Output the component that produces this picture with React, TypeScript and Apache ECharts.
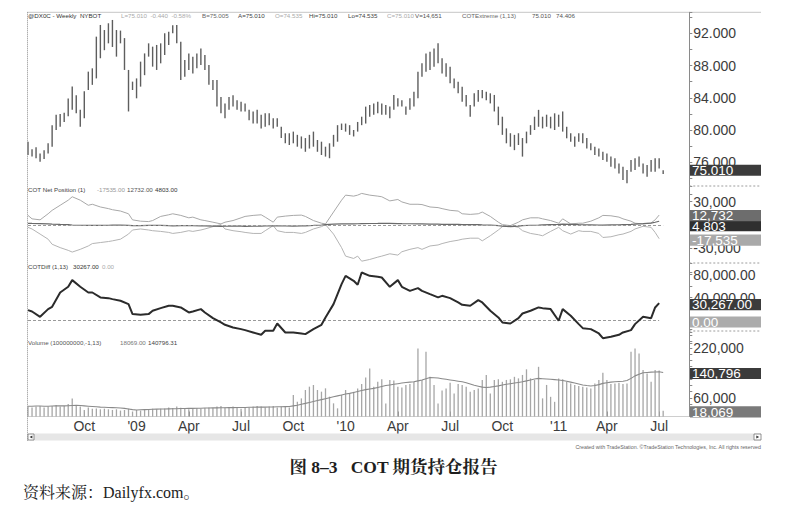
import React, { useEffect, useRef } from "react";
import * as echarts from "echarts";

// ---------- categories ----------
const START_DATE = "2008-06-27";
const SLOT_COUNT = 165;
const MONTHS = ["Jan", "Feb", "Mar", "Apr", "May", "Jun", "Jul", "Aug", "Sep", "Oct", "Nov", "Dec"];

// ---------- price (weekly high / low) ----------
const priceHigh = [
  78.55, 77.6, 77.85, 77.1, 77.5, 78.35, 80.6, 81.9, 82.0, 82.15,
  83.9, 85.4, 84.3, 82.5, 84.8, 87.24, 87.65, 91.58, 93.03, 92.4,
  93.24, 93.65, 92.4, 92.33, 91.4, 87.45, 86.0, 86.4, 88.48, 89.5,
  90.75, 90.34, 90.55, 90.75, 92.0, 92.2, 93.0, 93.03, 90.96, 88.69,
  89.5, 89.1, 89.5, 90.1, 89.3, 88.07, 86.2, 86.2, 84.1, 83.3,
  84.1, 84.3, 83.7, 83.5, 83.3, 82.5, 82.3, 82.5, 81.9, 82.07,
  82.07, 81.45, 81.45, 80.4, 79.6, 79.6, 79.8, 79.4, 79.2, 79.0,
  79.4, 79.8, 78.76, 78.55, 77.93, 78.35, 79.4, 80.6, 80.8, 80.8,
  80.6, 80.0, 81.0, 81.65, 82.9, 83.1, 83.3, 83.5, 83.3, 83.1,
  82.9, 84.35, 83.93, 83.7, 82.9, 83.93, 84.76, 87.24, 88.27, 89.5,
  89.7, 90.1, 90.75, 88.9, 88.27, 87.86, 86.4, 86.0, 85.38, 84.35,
  83.1, 84.55, 84.96, 84.96, 84.76, 84.55, 84.35, 82.9, 81.65, 80.2,
  79.6, 79.4, 79.6, 79.0, 79.8, 80.6, 81.65, 82.5, 81.65, 81.9,
  81.65, 82.07, 81.9, 82.3, 80.4, 79.6, 79.2, 79.6, 79.6, 79.0,
  78.35, 77.93, 77.7, 77.3, 77.1, 76.7, 76.5, 75.86, 75.45, 75.04,
  76.28, 76.5, 76.7, 75.86, 75.66, 76.28, 76.5, 76.5, 75.01,
];
const priceLow = [
  76.9, 76.7, 76.5, 76.07, 76.4, 77.1, 77.93, 80.0, 80.4, 81.0,
  81.7, 82.5, 82.07, 80.4, 81.45, 84.96, 85.6, 86.4, 88.9, 89.9,
  90.75, 90.3, 89.1, 90.75, 87.45, 82.3, 84.96, 83.93, 85.38, 86.8,
  89.1, 87.86, 87.45, 88.27, 89.3, 90.55, 92.0, 90.75, 86.2, 86.62,
  87.45, 87.0, 87.65, 88.07, 87.45, 85.6, 84.96, 82.9, 82.07, 81.45,
  82.5, 82.9, 82.5, 82.3, 82.3, 81.2, 80.8, 80.8, 80.2, 80.4,
  80.6, 80.2, 80.4, 79.0, 78.35, 78.14, 78.35, 77.93, 77.7, 77.3,
  77.7, 77.93, 77.3, 76.9, 76.7, 76.5, 77.93, 78.55, 80.0, 79.8,
  79.4, 79.2, 79.8, 80.6, 80.8, 81.65, 81.9, 82.07, 81.9, 81.9,
  81.45, 82.5, 82.9, 82.9, 81.9, 82.5, 82.9, 83.93, 86.62, 87.24,
  87.45, 87.86, 88.27, 87.0, 86.62, 85.8, 85.17, 84.55, 83.5, 82.9,
  81.65, 82.9, 83.5, 83.93, 83.7, 83.3, 82.3, 80.6, 79.4, 78.35,
  77.93, 77.5, 78.14, 76.7, 78.35, 79.4, 80.0, 80.4, 80.2, 80.4,
  80.2, 80.0, 80.4, 79.8, 78.97, 78.55, 77.93, 78.55, 78.35, 77.7,
  77.5, 76.9, 76.7, 76.28, 76.07, 75.45, 75.24, 74.6, 73.8, 73.38,
  74.83, 75.04, 75.45, 74.6, 74.2, 74.83, 74.83, 75.24, 74.535,
];
const lastClose = 75.01;

// ---------- COT net positions (sampled weeks) ----------
const cotWeeks = [
  0, 1, 3, 5, 6, 8, 10, 11, 13, 15, 16, 18, 20, 21, 23, 25, 26, 28, 30, 31,
  33, 35, 36, 38, 40, 41, 43, 44, 46, 48, 49, 51, 53, 54, 56, 58, 59, 61, 62, 64,
  66, 68, 69, 71, 73, 74, 76, 78, 79, 81,
  82, 83, 85, 87, 88, 90, 92, 93, 95, 97, 98, 100, 102, 103, 105, 107, 108, 110, 112, 113,
  115, 117, 118, 120, 122, 123, 125, 127, 128, 130, 132, 133, 135, 137, 138, 140, 142, 143, 145, 147,
  148, 150, 151, 153, 155, 156, 157,
];
const netUpper = [
  12300, 7900, 6600, 14400, 18800, 25300, 31800, 36200, 31800, 25300,
  26600, 23100, 21000, 19600, 17900, 14400, 6600, 4900, 4400, 5700,
  11000, 13100, 14400, 12300, 9200, 10100, 6600, 5700, 3600, 1400,
  3600, 5700, 9200, 11000, 12300, 13100, 10100, 3600, 10100, 11400,
  12300, 12700, 11000, 5700, 2300, 1400, 16600, 31800, 38300, 37000,
  38300, 40500, 38300, 37000, 36200, 30900, 32700, 29600, 26600, 26600,
  26200, 23100, 22300, 21000, 18800, 17900, 14400, 13600, 14400, 16600,
  11000, 3600, 500, -800, 3600, 6600, 9200, 9200, 7900, 5700,
  2300, 7900, 1400, 2300, 2300, 4900, 9200, 12300, 11800, 10100,
  7900, 4900, 2300, 1400, 2700, 6600, 12732,
];
const netLower = [
  -3000, -5100, -11600, -18200, -24700, -29000, -32500, -34700, -31200, -26900,
  -23800, -22500, -21200, -20300, -18200, -11600, -6400, -5100, -6400, -7300,
  -8200, -9500, -10800, -9500, -7300, -8200, -6400, -5100, -2100, 500,
  -5100, -7300, -8600, -9500, -10800, -10800, -7300, -800, -7300, -9500,
  -9500, -10800, -9500, -5100, -2100, 500, -11600, -29000, -39900, -42900,
  -39900, -46400, -44200, -41200, -39900, -36900, -38600, -34300, -31200, -29000,
  -31200, -26900, -25600, -23800, -21200, -19500, -18200, -16900, -16900, -20300,
  -13800, -6400, -2100, -800, -3000, -7300, -10800, -12500, -13800, -8200,
  -3000, -7300, -11600, -7300, -8200, -8200, -10800, -16000, -15100, -12500,
  -11600, -8200, -5100, -1700, -3000, -9500, -17535,
];
const netSmall = [
  2200, 2000, 1800, 1500, 1200, 800, 500, 0, -300, -500,
  -600, -400, -300, -200, 0, -400, -800, -700, -500, -400,
  -600, -900, -1000, -800, -700, -900, -1100, -1200, -1500, -1800,
  -1600, -1400, -1500, -1700, -1600, -1500, -1300, -1000, -1100, -1300,
  -1400, -1200, -1000, -600, 0, 600, 1000, 1400, 1600, 1500,
  1600, 1800, 1900, 2000, 2100, 2000, 1800, 1700, 1600, 1500,
  1400, 1200, 1000, 900, 800, 700, 600, 500, 400, 200,
  0, -800, -1500, -2000, -1400, -800, -300, 0, 200, 500,
  700, 1200, 800, 400, 300, 200, 0, -200, 100, 300,
  500, 800, 1200, 1800, 2500, 3500, 4803,
];
const cotDiff = [
  18000, 15700, 6400, 19800, 23800, 48700, 58600, 70200, 58600, 48700,
  48700, 40100, 38900, 37200, 34300, 28500, 11100, 9900, 11100, 16900,
  21500, 25600, 25600, 22700, 14000, 15700, 19800, 14000, 4100, -3400,
  -7500, -12100, -15000, -16700, -20800, -24900, -17900, -17900, -5200, -20800,
  -20800, -22600, -23700, -15000, -7500, 5300, 28500, 63200, 77700, 69000,
  62100, 83500, 77700, 76000, 74800, 58600, 70200, 58600, 51600, 56300,
  51600, 45800, 40100, 42900, 38900, 31400, 27300, 25600, 35400, 31400,
  16900, 5300, -3400, -5200, 4100, 12200, 16900, 22700, 21500, 19800,
  -500, 19800, 8200, -6300, -13300, -15000, -22600, -30700, -28300, -24900,
  -20800, -16700, -6300, 6400, 4100, 22700, 30267,
];

// ---------- volume ----------
const volume = [
  32000, 29000, 32000, 34000, 29000, 32000, 34000, 37000, 32000, 34000,
  40000, 58000, 37000, 32000, 21000, 29000, 25000, 26000, 23000, 25000,
  23000, 21000, 23000, 19000, 21000, 25000, 16000, 21000, 19000, 23000,
  21000, 25000, 23000, 25000, 26000, 29000, 27000, 32000, 28000, 26000,
  23000, 25000, 27000, 25000, 27000, 29000, 27000, 32000, 34000, 29000,
  27000, 32000, 29000, 25000, 27000, 29000, 32000, 34000, 32000, 29000,
  32000, 34000, 29000, 32000, 33000, 29000, 68800, 47500, 58000, 84800,
  95500, 100800, 84800, 79500, 90100, 63500, 42100, 26100, 68800, 84800,
  74000, 79000, 90000, 104000, 125000, 154000, 95000, 111000, 119000, 42000,
  117000, 115000, 95000, 93000, 101000, 104000, 111000, 218000, 117000, 207000,
  127000, 101000, 42000, 83000, 90000, 108000, 74000, 104000, 101000, 95000,
  79000, 85000, 90000, 117000, 133000, 74000, 117000, 119000, 111000, 117000,
  119000, 127000, 122000, 133000, 151000, 122000, 117000, 159000, 58000, 101000,
  63000, 47000, 122000, 119000, 111000, 106000, 101000, 98000, 95000, 93000,
  90000, 106000, 117000, 140000, 117000, 104000, 106000, 108000, 104000, 106000,
  207000, 218000, 202000, 149000, 138000, 111000, 149000, 147000, 18069,
];
const volumeAvg = [
  33000, 33000, 33500, 33500, 33000, 33000, 33500, 34000, 34000, 34000, 34500,
  35000, 35500, 35000, 34000,
  33000, 32000, 31000, 30000, 29500, 29000, 28500, 28000, 27000, 26000, 24000,
  22000, 21000, 21500, 22000, 22500,
  23000, 23500, 24000, 24000, 24500, 25000, 25000, 25500, 25500, 26000, 26000, 26500, 26500, 27000, 27000,
  27500, 27500, 28000, 28000, 28500, 28500, 29000, 29000, 29000, 29500, 29500, 30000, 30000, 30000, 30500, 30500, 31000, 31000, 31500, 32000,
  34000, 36000, 39000, 42000, 45000, 48000, 51000, 54000, 57000, 60000, 63000, 66000, 69000, 72000,
  74000, 77000, 80000, 83000, 86000, 88000, 90000, 93000, 96000, 99000, 101000,
  103000, 105000, 107000, 109000, 110000, 111000, 114000, 117000, 121000, 125000,
  124000, 123000, 121000, 119000, 117000, 115000, 113000, 111000, 108000, 104000,
  100000, 97000, 94000, 93000, 94000, 96000, 98000, 101000,
  103000, 105000, 107000, 109000, 111000, 114000, 117000, 120000, 122000,
  121000, 120000, 119000, 118000, 117000, 115000, 113000, 110000, 107000, 104000, 101000, 99000, 97600,
  99000, 102000, 106000, 108000, 110000, 111000, 112000, 113000,
  115000, 122000, 130000, 135000, 140000, 141000, 142000, 142500, 143000, 140796,
];

const SANS = '"Liberation Sans", Arial, sans-serif';
const SERIF = '"Liberation Serif", "Noto Serif CJK SC", "Noto Sans CJK SC", serif';
const LABEL = "#3c3c3c";

function weekCategories(): string[] {
  const base = Date.parse(START_DATE + "T00:00:00Z");
  const out: string[] = [];
  for (let i = 0; i < SLOT_COUNT; i++) {
    out.push(new Date(base + i * 7 * 86400000).toISOString().slice(0, 10));
  }
  return out;
}
// a label sits on the first week of each quarter (not on the chart's very first weeks)
const isQuarterStart = (idx: number, v: string) => {
  const m = +v.slice(5, 7) - 1;
  const d = +v.slice(8, 10);
  return idx > 4 && m % 3 === 0 && d <= 7;
};
const quarterLabel = (v: string) => {
  const m = +v.slice(5, 7) - 1;
  return m === 0 ? "'" + v.slice(2, 4) : MONTHS[m];
};
const fmt = (v: number, dec = 0) =>
  v.toLocaleString("en-US", { minimumFractionDigits: dec, maximumFractionDigits: dec });

export default function App() {
  const ref = useRef<HTMLDivElement>(null);

  useEffect(() => {
    const el = ref.current!;
    const chart = echarts.init(el, null, { renderer: "svg" });
    const cats = weekCategories();
    const gridBase = { left: 26, right: 812 - 689.3, outerBoundsMode: "none", containLabel: false };
    const grids = [
      { ...gridBase, top: 12.3, height: 182.2 },
      { ...gridBase, top: 186, height: 85.8 },
      { ...gridBase, top: 263, height: 80.5 },
      { ...gridBase, top: 329, height: 87.5 },
    ];
    const xAxes = grids.map((_, k) => ({
      type: "category",
      gridIndex: k,
      data: cats,
      boundaryGap: true,
      axisLine: { show: false },
      axisTick:
        k === 3
          ? { show: true, inside: true, length: 5, alignWithLabel: true, interval: (i: number, v: string) => isQuarterStart(i, v), lineStyle: { color: "#8a8a8a" } }
          : { show: false },
      axisLabel:
        k === 3
          ? { show: true, interval: (i: number, v: string) => isQuarterStart(i, v), formatter: quarterLabel, fontSize: 14, fontFamily: SANS, color: LABEL, margin: 2 }
          : { show: false },
      splitLine: { show: false },
    }));
    const yBase = {
      type: "value",
      position: "right",
      axisLine: { show: true, lineStyle: { color: "#8a8a8a", width: 1 } },
      axisTick: { show: true, length: 3, lineStyle: { color: "#8a8a8a" } },
      splitLine: { show: false },
    };
    const yAxes = [
      {
        ...yBase, gridIndex: 0, min: 72, max: 94.6, interval: 2,
        axisLabel: { fontSize: 14, fontFamily: SANS, color: LABEL, margin: 4, formatter: (v: number) => (v % 4 === 0 && v >= 76 && v <= 92 ? v.toFixed(3) : "") },
      },
      {
        ...yBase, gridIndex: 1, min: -60000, max: 50000, interval: 30000,
        axisLabel: { fontSize: 14, fontFamily: SANS, color: LABEL, margin: 4, formatter: (v: number) => (Math.abs(v) === 30000 ? fmt(v) : "") },
      },
      {
        ...yBase, gridIndex: 2, min: -40000, max: 100000, interval: 20000,
        axisLabel: { fontSize: 14, fontFamily: SANS, color: LABEL, margin: 4, formatter: (v: number) => (v === 40000 || v === 80000 ? fmt(v, 2) : "") },
      },
      {
        ...yBase, gridIndex: 3, min: 0, max: 280000, interval: 20000,
        axisLabel: { fontSize: 14, fontFamily: SANS, color: LABEL, margin: 4, formatter: (v: number) => (v === 60000 || v === 220000 ? fmt(v) : "") },
      },
    ];
    const lastIdx = priceHigh.length - 1;
    const zeroLine = (endIdx: number) => ({
      silent: true,
      symbol: ["none", "none"],
      label: { show: false },
      lineStyle: { type: [3, 2], color: "#9a9a9a", width: 1 },
      data: [[{ coord: [0, 0] }, { coord: [endIdx, 0] }]],
    });
    const lastCot = cotWeeks[cotWeeks.length - 1];

    chart.setOption({
      animation: false,
      backgroundColor: "#ffffff",
      grid: grids,
      xAxis: xAxes,
      yAxis: yAxes,
      series: [
        {
          type: "custom",
          xAxisIndex: 0,
          yAxisIndex: 0,
          data: priceHigh.map((h, i) => [i, h, priceLow[i]]),
          encode: { x: 0, y: [1, 2] },
          renderItem: (_p: any, api: any) => {
            const i = api.value(0);
            const a = api.coord([i, api.value(1)]);
            const b = api.coord([i, api.value(2)]);
            return { type: "line", shape: { x1: a[0], y1: a[1], x2: b[0], y2: b[1] }, style: { stroke: "#5e5e5e", lineWidth: 1.4 } };
          },
        },
        {
          type: "line", xAxisIndex: 1, yAxisIndex: 1, showSymbol: false, symbol: "none",
          data: cotWeeks.map((w, k) => [w, netUpper[k]]),
          lineStyle: { color: "#a8a8a8", width: 1 },
        },
        {
          type: "line", xAxisIndex: 1, yAxisIndex: 1, showSymbol: false, symbol: "none",
          data: cotWeeks.map((w, k) => [w, netLower[k]]),
          lineStyle: { color: "#b4b4b4", width: 1 },
        },
        {
          type: "line", xAxisIndex: 1, yAxisIndex: 1, showSymbol: false, symbol: "none",
          data: cotWeeks.map((w, k) => [w, netSmall[k]]),
          lineStyle: { color: "#6a6a6a", width: 1.2 },
          markLine: zeroLine(lastIdx),
        },
        {
          type: "line", xAxisIndex: 2, yAxisIndex: 2, showSymbol: false, symbol: "none",
          data: cotWeeks.map((w, k) => [w, cotDiff[k]]),
          lineStyle: { color: "#2b2b2b", width: 2 },
          markLine: zeroLine(lastCot),
          z: 5,
        },
        {
          type: "bar", xAxisIndex: 3, yAxisIndex: 3, barWidth: 1.3,
          data: volume,
          itemStyle: { color: "#a6a6a6" },
        },
        {
          type: "line", xAxisIndex: 3, yAxisIndex: 3, showSymbol: false, symbol: "none",
          data: volumeAvg,
          lineStyle: { color: "#8a8a8a", width: 1.1 },
        },
      ],
    });

    const py = (axis: number, v: number) => chart.convertToPixel({ yAxisIndex: axis } as any, v) as unknown as number;
    const G: any[] = [];
    const text = (x: number, y: number, s: string, size: number, fill: string, extra: any = {}) =>
      G.push({ type: "text", x, y, silent: true, z: 50, style: { text: s, fontSize: size, fontFamily: SANS, fill, verticalAlign: "middle", align: "left", ...extra } });
    const line = (x1: number, y1: number, x2: number, y2: number, stroke: string, dash?: number[]) =>
      G.push({ type: "line", silent: true, z: 40, shape: { x1, y1, x2, y2 }, style: { stroke, lineWidth: 1, lineDash: dash } });

    // frame & separators
    line(27.5, 12.3, 761, 12.3, "#8c8c8c", [1, 1]);
    line(27.5, 12.3, 27.5, 441, "#8c8c8c", [1, 1]);
    [186, 263, 331].forEach((y) => line(689.3, y, 761, y, "#9c9c9c", [2, 2]));
    line(27.5, 416.5, 761, 416.5, "#9c9c9c", [1, 1]);

    // scrollbar
    G.push({ type: "rect", silent: true, z: 40, shape: { x: 30, y: 433.5, width: 731, height: 7 }, style: { fill: "#e6e6e6" } });
    G.push({ type: "rect", silent: true, z: 41, shape: { x: 28, y: 434, width: 6, height: 6 }, style: { fill: "#fff", stroke: "#777", lineWidth: 0.8 } });
    G.push({ type: "polygon", silent: true, z: 42, shape: { points: [[29.6, 437], [32.4, 435.4], [32.4, 438.6]] }, style: { fill: "#333" } });
    G.push({ type: "rect", silent: true, z: 41, shape: { x: 754, y: 434, width: 7, height: 6 }, style: { fill: "#fff", stroke: "#777", lineWidth: 0.8 } });
    G.push({ type: "polygon", silent: true, z: 42, shape: { points: [[756.3, 435.4], [756.3, 438.6], [759.2, 437]] }, style: { fill: "#333" } });
    text(761, 447, "Created with TradeStation. \u00A9TradeStation Technologies, Inc. All rights reserved", 5.3, "#666", { align: "right" });

    // panel headers
    const H = 6.2;
    text(28, 15.8, "@DX0C - Weekly  NYBOT", H, "#333");
    text(121, 15.8, "L=75.010  -0.440  -0.58%", H, "#aaa");
    text(202, 15.8, "B=75.005", H, "#666");
    text(238, 15.8, "A=75.010", H, "#444");
    text(275, 15.8, "O=74.535", H, "#aaa");
    text(309, 15.8, "Hi=75.010", H, "#444");
    text(348, 15.8, "Lo=74.535", H, "#444");
    text(387, 15.8, "C=75.010", H, "#aaa");
    text(415, 15.8, "V=14,651", H, "#555");
    text(462, 15.8, "COTExtreme (1,13)", H, "#666");
    text(532, 15.8, "75.010   74.406", H, "#555");

    text(28, 189.5, "COT Net Position (1)", H, "#444");
    text(97, 189.5, "-17535.00", H, "#999");
    text(127, 189.5, "12732.00", H, "#555");
    text(155, 189.5, "4803.00", H, "#333");

    text(28, 266.5, "COTDiff (1,13)", H, "#444");
    text(73, 266.5, "30267.00", H, "#333");
    text(102, 266.5, "0.00", H, "#aaa");

    text(28, 342.5, "Volume (100000000,-1,13)", H, "#555");
    text(120, 342.5, "18069.00", H, "#777");
    text(148, 342.5, "140796.31", H, "#444");

    // last value boxes
    const boxes = [
      { axis: 0, v: lastClose, t: lastClose.toFixed(3), fill: "#3b3b3b", dy: 0 },
      { axis: 1, v: netSmall[netSmall.length - 1], t: fmt(netSmall[netSmall.length - 1]), fill: "#2f2f2f", dy: 4.5 },
      { axis: 1, v: netUpper[netUpper.length - 1], t: fmt(netUpper[netUpper.length - 1]), fill: "#6d6d6d", dy: 0.5 },
      { axis: 1, v: netLower[netLower.length - 1], t: fmt(netLower[netLower.length - 1]), fill: "#a9a9a9", dy: 1.5 },
      { axis: 2, v: cotDiff[cotDiff.length - 1], t: fmt(cotDiff[cotDiff.length - 1], 2), fill: "#3b3b3b", dy: 1.5 },
      { axis: 2, v: 0, t: "0.00", fill: "#acacac", dy: 1.5 },
      { axis: 3, v: volumeAvg[volumeAvg.length - 1], t: fmt(volumeAvg[volumeAvg.length - 1]), fill: "#3b3b3b", dy: 1 },
      { axis: 3, v: volume[volume.length - 1], t: fmt(volume[volume.length - 1]), fill: "#7a7a7a", dy: 1 },
    ];
    boxes.forEach((b, k) => {
      const y = py(b.axis, b.v) + b.dy;
      G.push({ type: "rect", silent: true, z: 60 + k * 2, shape: { x: 690, y: y - 5.6, width: 71, height: 11.2 }, style: { fill: b.fill } });
      G.push({ type: "text", silent: true, z: 61 + k * 2, x: 692, y: y + 0.3, style: { text: b.t, fontSize: 13.5, fontFamily: SANS, fill: "#ffffff", verticalAlign: "middle", align: "left" } });
    });

    // caption & source
    G.push({ type: "text", silent: true, z: 50, x: 393.5, y: 466.5, style: { text: "图 8\u20133   COT 期货持仓报告", fontSize: 17.5, fontWeight: "bold", fontFamily: SERIF, fill: "#1e1e1e", align: "center", verticalAlign: "middle" } });
    G.push({ type: "text", silent: true, z: 50, x: 23, y: 492.5, style: { text: "资料来源：Dailyfx.com。", fontSize: 16, fontFamily: SERIF, fill: "#222", align: "left", verticalAlign: "middle" } });

    chart.setOption({ graphic: { elements: G } });
    return () => chart.dispose();
  }, []);

  return <div ref={ref} style={{ position: "fixed", left: 0, top: 0, width: 812, height: 508, background: "#fff" }} />;
}
